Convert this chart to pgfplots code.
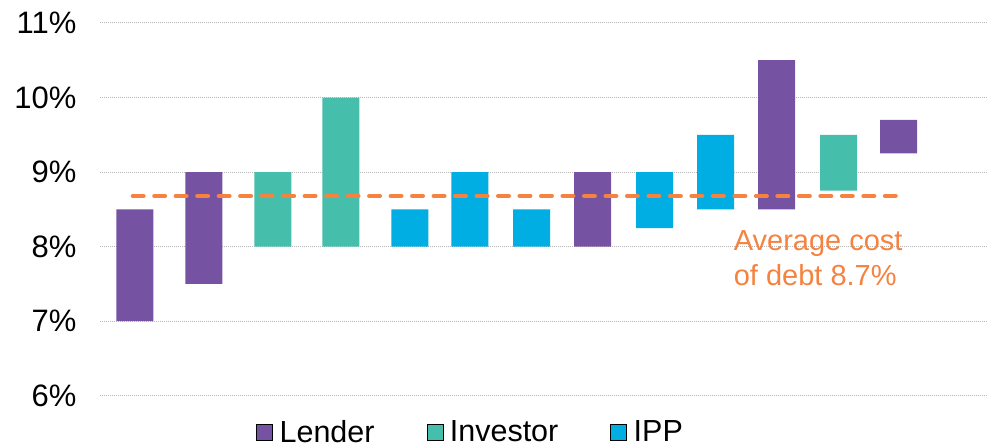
\documentclass[border=0pt]{standalone}
\usepackage{pgfplots}
\pgfplotsset{compat=1.18}
\usepackage{pgfplotstable}
\usepackage{fontspec}
\setmainfont{Liberation Sans}

\definecolor{lender}{HTML}{7652A2}
\definecolor{investor}{HTML}{45BFAB}
\definecolor{ipp}{HTML}{00AEE3}
\definecolor{avgline}{HTML}{F5823F}

% x = bar centre, lo = bottom of range, then range length per group
\pgfplotstableread{
x   lo    lender investor ipp
135 7.00  1.50   0        0
204 7.50  1.50   0        0
273 8.00  0      1.00     0
341 8.00  0      2.00     0
410 8.00  0      0        0.50
470 8.00  0      0        1.00
532 8.00  0      0        0.50
593 8.00  1.00   0        0
655 8.25  0      0        0.75
716 8.50  0      0        1.00
777 8.50  2.00   0        0
839 8.75  0      0.75     0
899 9.25  0.45   0        0
}\ranges

\begin{document}
\begin{tikzpicture}
\begin{axis}[
    scale only axis,
    width=887pt, height=373pt,
    xmin=100, xmax=987,
    ymin=6, ymax=11,
    ytick={6,7,8,9,10,11},
    yticklabel={\pgfmathprintnumber{\tick}\%},
    /pgf/number format/assume math mode=true,
    yticklabel style={font=\fontsize{31}{36}\selectfont, xshift=-20pt},
    xtick=\empty,
    axis line style={draw=none},
    major tick length=0pt,
    ymajorgrids,
    major grid style={draw=black!28, line width=1pt, dash pattern=on 1pt off 1pt},
    bar width=37pt,
    clip=false,
    legend columns=3,
    legend style={
        at={(0.418,-0.0965)}, anchor=center,
        draw=none, fill=none,
        font=\fontsize{30.5}{36}\selectfont,
        /tikz/every even column/.append style={column sep=50pt},
    },
    legend image code/.code={\fill[#1] (0pt,-8pt) rectangle (16pt,8pt); \path (21pt,0pt);},
]
\addplot[ybar stacked, draw=none, fill=none, forget plot] table[x=x, y=lo] {\ranges};
\addplot[ybar stacked, draw=none, fill=lender, forget plot] table[x=x, y=lender] {\ranges};
\addplot[ybar stacked, draw=none, fill=investor, forget plot] table[x=x, y=investor] {\ranges};
\addplot[ybar stacked, draw=none, fill=ipp, forget plot] table[x=x, y=ipp] {\ranges};

\addplot[stack plots=false, sharp plot, avgline, line width=4.5pt, line cap=round,
    dash pattern=on 10.5pt off 11pt, forget plot] coordinates {(133,8.68) (898,8.68)};

\addlegendimage{fill=lender}
\addlegendentry{Lender}
\addlegendimage{fill=investor}
\addlegendentry{Investor}
\addlegendimage{fill=ipp}
\addlegendentry{IPP}

\node[anchor=north west, align=left, text=avgline, inner sep=0pt,
    font=\fontsize{29}{35}\selectfont] at (axis cs:734,8.22)
    {Average cost\\of debt 8.7\%};

\path (axis cs:0,11.308) rectangle (axis cs:987,5.316);
\end{axis}
\end{tikzpicture}
\end{document}
